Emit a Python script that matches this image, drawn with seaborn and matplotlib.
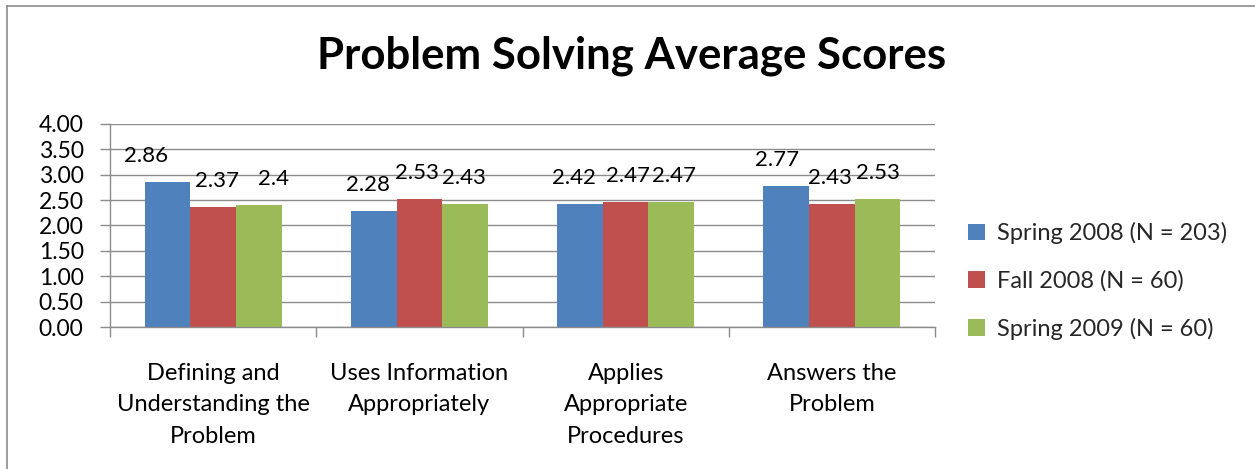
import matplotlib
matplotlib.use("Agg")
import matplotlib.pyplot as plt
import seaborn as sns
import pandas as pd
from matplotlib.lines import Line2D
from matplotlib.patches import Patch

categories = ["Defining and\nUnderstanding the\nProblem",
              "Uses Information\nAppropriately",
              "Applies\nAppropriate\nProcedures",
              "Answers the\nProblem"]
series = ["Spring 2008 (N = 203)", "Fall 2008 (N = 60)", "Spring 2009 (N = 60)"]
spring2008 = [2.86, 2.28, 2.42, 2.77]
fall2008 = [2.37, 2.53, 2.47, 2.43]
spring2009 = [2.4, 2.43, 2.47, 2.53]
label_texts = [["2.86", "2.28", "2.42", "2.77"],
               ["2.37", "2.53", "2.47", "2.43"],
               ["2.4", "2.43", "2.47", "2.53"]]
colors = ["#4F81BD", "#C0504D", "#9BBB59"]

rows = []
for s, vals in zip(series, [spring2008, fall2008, spring2009]):
    for c, v in zip(categories, vals):
        rows.append({"category": c, "series": s, "score": v})
df = pd.DataFrame(rows)

sns.set_theme(style="white")
plt.rcParams["font.family"] = ["Lato", "DejaVu Sans"]

fig = plt.figure(figsize=(12.55, 4.69), dpi=100)
ax = fig.add_axes([110/1255, 1-327/469, (935-110)/1255, (327-124)/469])

sns.barplot(data=df, x="category", y="score", hue="series", order=categories,
            hue_order=series, palette=colors, width=0.665, saturation=1,
            errorbar=None, ax=ax, legend=False, linewidth=0)

ax.set_ylim(0, 4.0)
ax.set_xlim(-0.5, len(categories) - 0.5)
ax.set_yticks([i * 0.5 for i in range(9)])
ax.set_yticklabels([f"{i*0.5:.2f}" for i in range(9)], fontsize=16.5)
ax.yaxis.grid(True, color="#8C8C8C", linewidth=1)
ax.set_axisbelow(True)
ax.set_xlabel("")
ax.set_ylabel("")
for sp in ["top", "right"]:
    ax.spines[sp].set_visible(False)
for sp in ["left", "bottom"]:
    ax.spines[sp].set_color("#8C8C8C")
    ax.spines[sp].set_linewidth(1)
ax.tick_params(axis="y", which="major", left=True, length=7, width=1,
               color="#8C8C8C", pad=12, labelsize=16.5, labelcolor="black")
ax.set_xticks(range(len(categories)))
ax.set_xticklabels(categories, fontsize=17, linespacing=1.6)
ax.tick_params(axis="x", which="major", bottom=False, pad=20, labelcolor="black")
ax.set_xticks([i - 0.5 for i in range(len(categories) + 1)], minor=True)
ax.tick_params(axis="x", which="minor", bottom=True, length=7, width=1,
               color="#8C8C8C", direction="out")

# value labels (small horizontal nudges like the reference)
nudges = [[-21, -6, -6, -9], [4, -2, 2, -2], [15, -1, 3, 0]]
for si, cont in enumerate(ax.containers):
    for ci, bar in enumerate(cont):
        xc = bar.get_x() + bar.get_width() / 2
        h = bar.get_height()
        ax.annotate(label_texts[si][ci], xy=(xc, h), xytext=(nudges[si][ci], 26),
                    textcoords="offset pixels", ha="center", va="center",
                    fontsize=16, color="black")

handles = [Patch(facecolor=c, edgecolor="none") for c in colors]
fig.legend(handles, series, loc="center left", bbox_to_anchor=(947/1255, 1-281/469),
           frameon=False, fontsize=17, handlelength=0.7, handleheight=0.7,
           handletextpad=0.5, labelspacing=1.1)

fig.text(0.5035, 1-56/469, "Problem Solving Average Scores", ha="center", va="center",
         fontsize=31.5, fontweight="bold", color="black")

fig.add_artist(Line2D([7/1255, 7/1255], [0, 1-6/469], transform=fig.transFigure,
                      color="#8C8C8C", linewidth=1.2))
fig.add_artist(Line2D([7/1255, 1], [1-6/469, 1-6/469], transform=fig.transFigure,
                      color="#8C8C8C", linewidth=1.2))

fig.savefig("out.png", dpi=100, facecolor="white")
